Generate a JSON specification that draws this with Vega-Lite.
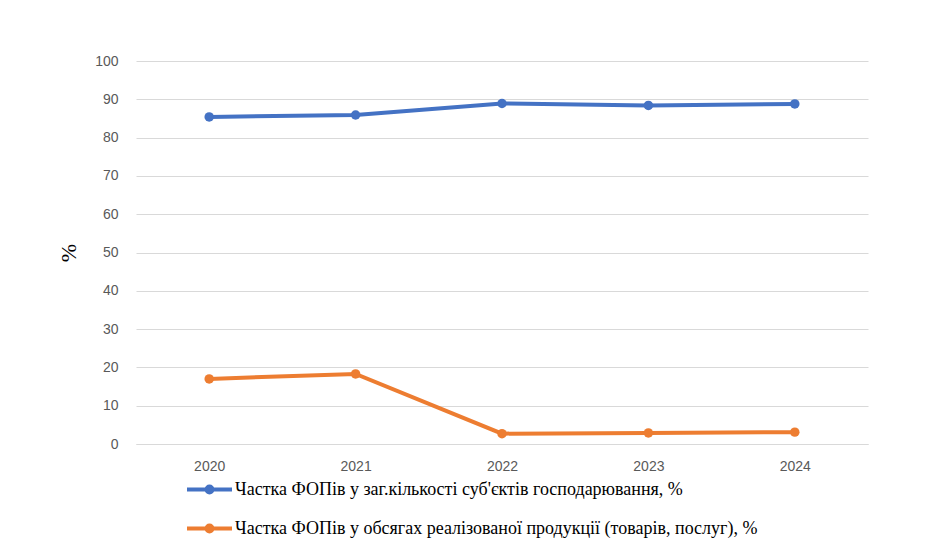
{
  "$schema": "https://vega.github.io/schema/vega-lite/v6.json",
  "autosize": "none",
  "width": 732,
  "height": 383,
  "padding": {"left": 136, "top": 61, "right": 60, "bottom": 111},
  "background": "white",
  "data": {
    "values": [
      {"year": "2020", "series": "Частка ФОПів  у заг.кількості суб'єктів господарювання, %", "value": 85.4},
      {"year": "2021", "series": "Частка ФОПів  у заг.кількості суб'єктів господарювання, %", "value": 85.9},
      {"year": "2022", "series": "Частка ФОПів  у заг.кількості суб'єктів господарювання, %", "value": 88.9},
      {"year": "2023", "series": "Частка ФОПів  у заг.кількості суб'єктів господарювання, %", "value": 88.4},
      {"year": "2024", "series": "Частка ФОПів  у заг.кількості суб'єктів господарювання, %", "value": 88.8},
      {"year": "2020", "series": "Частка ФОПів  у обсягах реалізованої продукції (товарів, послуг), %", "value": 17.0},
      {"year": "2021", "series": "Частка ФОПів  у обсягах реалізованої продукції (товарів, послуг), %", "value": 18.3},
      {"year": "2022", "series": "Частка ФОПів  у обсягах реалізованої продукції (товарів, послуг), %", "value": 2.7},
      {"year": "2023", "series": "Частка ФОПів  у обсягах реалізованої продукції (товарів, послуг), %", "value": 2.9},
      {"year": "2024", "series": "Частка ФОПів  у обсягах реалізованої продукції (товарів, послуг), %", "value": 3.1}
    ]
  },
  "encoding": {
    "x": {
      "field": "year",
      "type": "ordinal",
      "scale": {"paddingInner": 0, "paddingOuter": 0},
      "axis": {
        "title": null,
        "labelAngle": 0,
        "labelFont": "Liberation Sans",
        "labelFontSize": 14,
        "labelColor": "#595959",
        "ticks": false,
        "domain": true,
        "domainColor": "#d9d9d9",
        "labelPadding": 15,
        "grid": false
      }
    },
    "y": {
      "field": "value",
      "type": "quantitative",
      "scale": {"domain": [0, 100], "nice": false},
      "axis": {
        "title": "%",
        "titleFont": "Liberation Serif",
        "titleFontSize": 22,
        "titleFontWeight": "normal",
        "titleColor": "#000000",
        "titlePadding": 14,
        "values": [0, 10, 20, 30, 40, 50, 60, 70, 80, 90, 100],
        "labelFont": "Liberation Sans",
        "labelFontSize": 14,
        "labelColor": "#595959",
        "labelPadding": 18,
        "ticks": false,
        "domain": false,
        "grid": true,
        "gridColor": "#d9d9d9",
        "gridWidth": 1
      }
    },
    "color": {
      "field": "series",
      "type": "nominal",
      "scale": {"range": ["#4472C4", "#ED7D31"]},
      "legend": {
        "title": null,
        "orient": "none",
        "legendX": 49,
        "legendY": 404,
        "direction": "vertical",
        "labelFont": "Liberation Serif",
        "labelFontSize": 18,
        "labelColor": "#000000",
        "labelLimit": 750,
        "labelOffset": 1,
        "rowPadding": 3,
        "symbolType": "M-1,0L1,0M-0.13,0A0.13,0.13 0 1,1 0.13,0A0.13,0.13 0 1,1 -0.13,0",
        "symbolSize": 2025,
        "symbolStrokeWidth": 4,
        "symbolFillColor": "transparent"
      }
    }
  },
  "layer": [
    {"mark": {"type": "line", "strokeWidth": 4}},
    {"mark": {"type": "point", "filled": true, "size": 90, "opacity": 1}, "encoding": {"color": {"field": "series", "type": "nominal", "legend": null}}}
  ],
  "config": {"view": {"stroke": null}}
}
